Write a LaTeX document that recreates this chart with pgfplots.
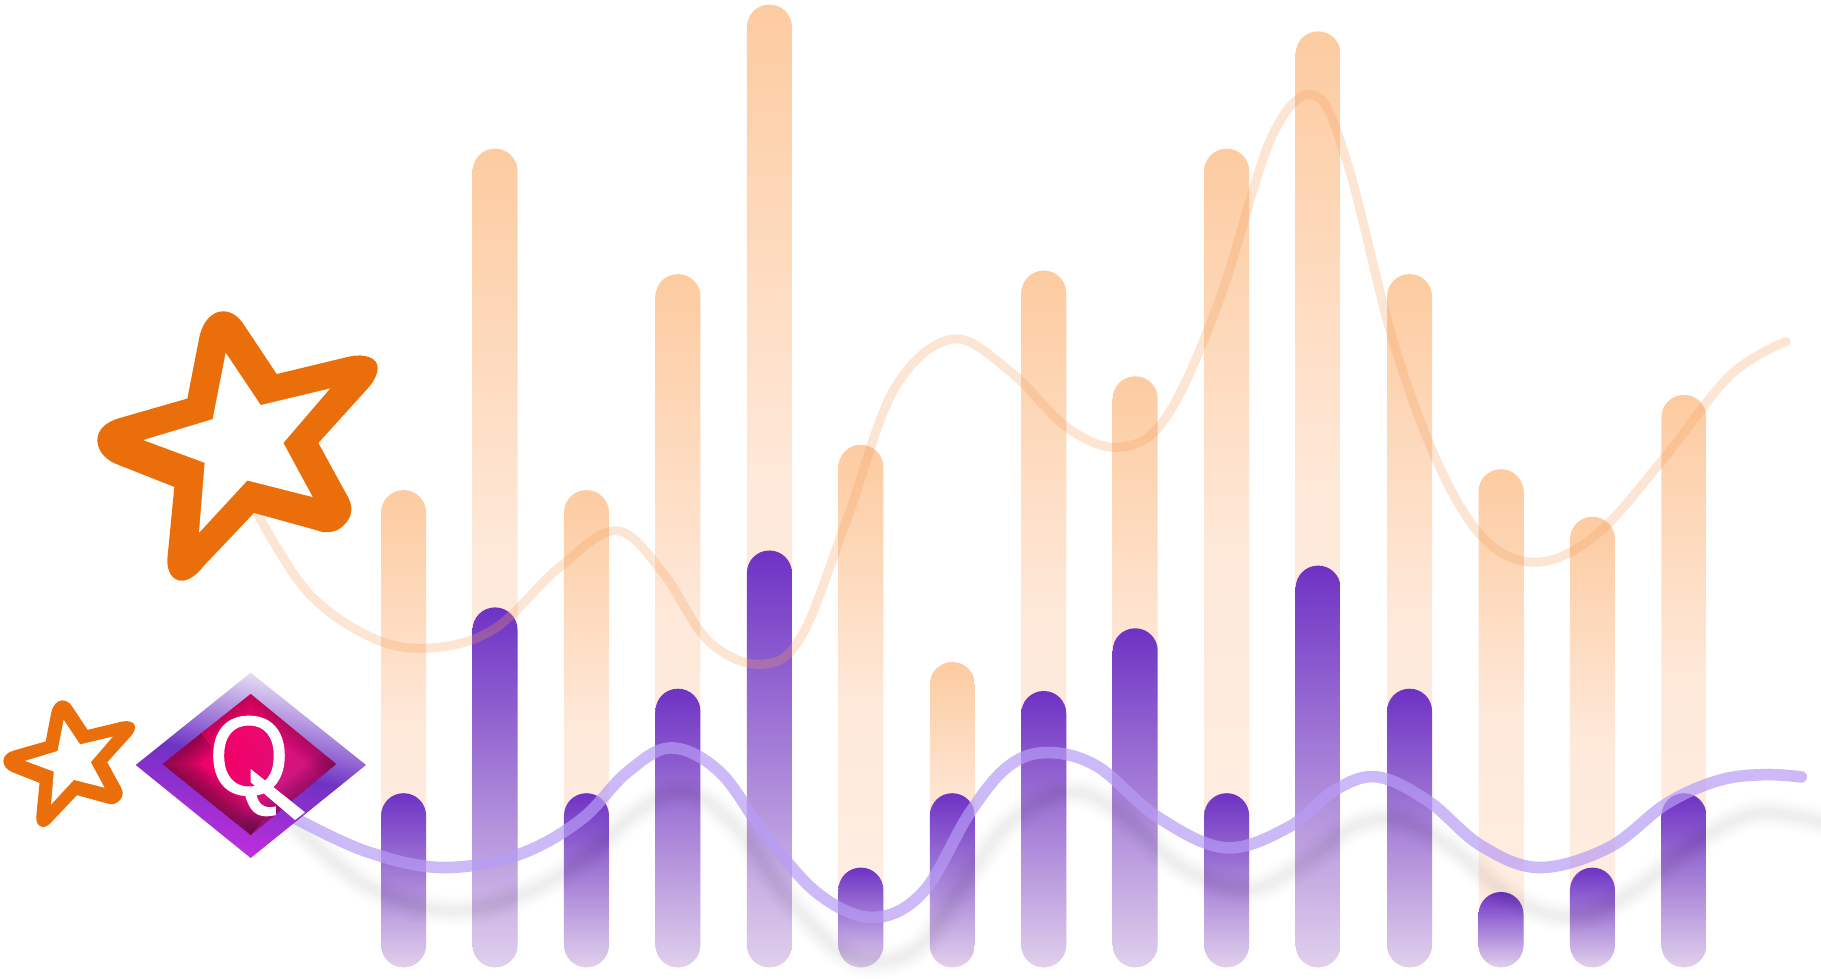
\documentclass[border=0pt]{standalone}
\usepackage{pgfplots}
\pgfplotsset{compat=1.18}
\usepackage{pgfplotstable}
\usetikzlibrary{fadings}
\usepackage{fontspec}
\setmainfont{Liberation Sans}
\newfontfamily\qfont[FakeBold=1.2]{Liberation Sans}
\definecolor{orTop}{HTML}{FDCBA0}
\definecolor{orMid}{HTML}{FEE9DA}
\definecolor{orBot}{HTML}{FFEFE5}
\definecolor{puTop}{HTML}{6E32C4}
\definecolor{puBot}{HTML}{E0D0EC}
\definecolor{starO}{HTML}{EA6F0A}
\definecolor{orLine}{HTML}{F5A060}
\definecolor{puLine}{HTML}{B79CF5}
\definecolor{diaBot}{HTML}{C82CE0}
\definecolor{diaTop}{HTML}{F0EAF9}
\definecolor{pinkA}{HTML}{FF0066}
\definecolor{pinkB}{HTML}{B8208E}
\definecolor{pinkD}{HTML}{5A0A3A}
\tikzfading[name=lrfade,left color=transparent!55,right color=transparent!0]
\pgfplotstableread{
x y
222 443
265 510
320 549
370 558
425 542
480 490
530 457
570 492
610 552
655 572
690 548
730 445
770 335
820 292
870 320
920 369
965 385
1005 358
1050 258
1095 118
1132 82
1160 140
1200 295
1240 403
1280 466
1325 484
1375 460
1430 398
1490 323
1538 294
}\orangecurve
\pgfplotstableread{
x y
255 705
315 733
380 747
446 736
500 706
540 665
578 644
620 665
660 720
705 770
752 790
795 768
835 700
868 660
902 648
945 660
996 703
1055 730
1110 712
1150 680
1186 669
1230 690
1275 728
1325 747
1385 730
1435 692
1480 672
1519 667
1551 669
}\purplecurve
\pgfplotstableread{
x y
255 712
315 762
383 784
445 772
500 742
545 702
588 682
632 710
680 775
725 820
759 828
795 812
830 760
870 708
920 682
965 700
1015 745
1073 766
1120 745
1165 712
1204 706
1250 730
1305 775
1357 789
1410 765
1465 722
1515 700
1568 708
}\shadowcurve
\newcommand{\obar}[2]{\addplot[ybar,bar width=22.5pt,bar shift=0pt,draw=none,rounded corners=11.2pt,top color=orTop,bottom color=orBot,middle color=orMid] coordinates {(#1,#2)};}
\newcommand{\pbar}[2]{\addplot[ybar,bar width=22.5pt,bar shift=0pt,draw=none,rounded corners=11.2pt,top color=puTop,bottom color=puBot] coordinates {(#1,#2)};}
\newcommand{\starpath}{
  (562,280) -- (598,110) .. controls (610,60) and (640,38) .. (670,38)
  .. controls (700,38) and (722,60) .. (735,80) -- (830,212) -- (1050,163)
  .. controls (1090,155) and (1135,165) .. (1133,197)
  .. controls (1130,225) and (1110,245) .. (1095,260) -- (955,403) -- (1045,555)
  .. controls (1065,590) and (1050,620) .. (1020,640)
  .. controls (1005,650) and (975,655) .. (950,645) -- (762,597) -- (610,745)
  .. controls (590,770) and (565,785) .. (545,785)
  .. controls (515,785) and (500,755) .. (502,725) -- (523,525) -- (345,460)
  .. controls (310,445) and (292,420) .. (292,395)
  .. controls (292,365) and (320,345) .. (355,335) -- cycle}
\newcommand{\starinner}{
  (677,153) -- (782,298) -- (990,252) -- (850,403) -- (938,553) -- (742,507)
  -- (597,652) -- (614,458) -- (430,395) -- (638,337) -- cycle}
\pgfplotsset{curveaxis/.style={at={(0,0)},anchor=south west,scale only axis,width=910.5pt,height=489.5pt,
  hide axis,clip=false,xmin=0,xmax=1568,ymin=0,ymax=843,y dir=reverse}}
\begin{document}
\begin{tikzpicture}
\path[use as bounding box] (0,0) rectangle (910.5pt,489.5pt);
\begin{axis}[at={(0,0)},anchor=south west,scale only axis,width=910.5pt,height=489.5pt,
  hide axis,clip=false,xmin=-4.413,xmax=15.499,ymin=-11.6,ymax=967.4]
\obar{0}{477.3}\obar{1}{818.7}\obar{2}{477.3}\obar{3}{693.3}\obar{4}{962.8}
\obar{5}{522.6}\obar{6}{305.4}\obar{7}{696.8}\obar{8}{591.1}\obar{9}{818.7}
\obar{10}{936}\obar{11}{693.3}\obar{12}{498.2}\obar{13}{450.6}\obar{14}{572.5}
\pbar{0}{174.2}\pbar{1}{360}\pbar{2}{174.2}\pbar{3}{278.7}\pbar{4}{416.9}
\pbar{5}{99.8}\pbar{6}{174.2}\pbar{7}{276.4}\pbar{8}{339.1}\pbar{9}{174.2}
\pbar{10}{401.8}\pbar{11}{278.7}\pbar{12}{75.4}\pbar{13}{99.8}\pbar{14}{174.2}
\end{axis}
\begin{axis}[curveaxis]
\addplot[smooth,tension=.6,draw=black,opacity=.009,line width=16pt,line cap=round] table {\shadowcurve};
\addplot[smooth,tension=.6,draw=black,opacity=.011,line width=13pt,line cap=round] table {\shadowcurve};
\addplot[smooth,tension=.6,draw=black,opacity=.013,line width=10pt,line cap=round] table {\shadowcurve};
\addplot[smooth,tension=.6,draw=black,opacity=.015,line width=7pt,line cap=round] table {\shadowcurve};
\addplot[smooth,tension=.6,draw=black,opacity=.015,line width=4pt,line cap=round] table {\shadowcurve};
\end{axis}
\begin{scope}[transparency group,scope fading=lrfade,fit fading=true]
\begin{axis}[curveaxis]
\addplot[smooth,tension=.6,draw=orLine,opacity=.28,line width=4.5pt,line cap=round] table {\orangecurve};
\end{axis}
\end{scope}
\begin{scope}[transparency group,scope fading=lrfade,fit fading=true]
\begin{axis}[curveaxis]
\addplot[smooth,tension=.6,draw=puLine,opacity=.7,line width=5.8pt,line cap=round] table {\purplecurve};
\end{axis}
\end{scope}
% decorative emblem: two stars and the Q diamond, in pixel coordinates
\begin{scope}[x=0.16667pt,y=-0.18035pt,yshift=340.7pt]
  \fill[starO] \starpath;
  \fill[white] \starinner;
  \begin{scope}[shift={(-127.2,1098.8)},scale=.47]
    \fill[starO] \starpath;
    \fill[white] \starinner;
  \end{scope}
\end{scope}
\begin{scope}[x=0.5pt,y=-0.5pt,yshift=489.5pt]
  \shade[shading=axis,top color=diaTop,bottom color=diaBot,middle color=puTop,shading angle=-14]
     (250.7,672.7) -- (366,765) -- (250.7,858) -- (135.7,765) -- cycle;
  \begin{scope}
    \clip (250.7,694) -- (336,764) -- (250.7,835) -- (162.7,764) -- cycle;
    \shade[shading=axis,left color=pinkA,right color=pinkB,shading angle=20]
      (162,694) rectangle (336,835);
    \foreach \r in {10,15,...,60}{
      \fill[pinkA,opacity=.1] (222,772) circle[radius=\r];
    }
    \foreach \w in {4,8,...,48}{
      \draw[pinkD,opacity=.075,line width=\w*0.5pt] (250.7,835) -- (162.7,764) -- (200,733);
      \draw[pinkD,opacity=.035,line width=\w*0.4pt] (336,764) -- (250.7,835);
      \draw[pinkD,opacity=.03,line width=\w*0.4pt] (336,764) -- (250.7,694) -- (200,733);
    }
  \end{scope}
  \node[text=white,inner sep=0pt,font=\qfont\fontsize{56}{56}\selectfont,xscale=.92] at (249,766) {Q};
  \fill[white] (250.7,769) -- (250.7,782.3) -- (295,820) -- (305,812.3) -- cycle;
\end{scope}
\end{tikzpicture}
\end{document}
